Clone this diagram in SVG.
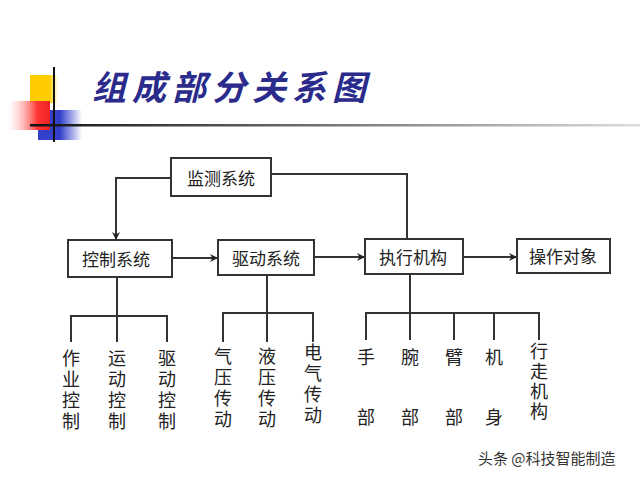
<svg xmlns="http://www.w3.org/2000/svg" width="640" height="480" viewBox="0 0 640 480">
<defs>
<linearGradient id="red" x1="0" x2="1"><stop offset="0" stop-color="#fff" stop-opacity="0.3"/><stop offset="0.7" stop-color="#f33"/><stop offset="1" stop-color="#e22"/></linearGradient>
<linearGradient id="blue" x1="0" x2="1"><stop offset="0" stop-color="#3340cc"/><stop offset="0.5" stop-color="#3340cc"/><stop offset="1" stop-color="#fff"/></linearGradient>
<linearGradient id="yel" x1="0" x2="1"><stop offset="0" stop-color="#ffcc00"/><stop offset="0.7" stop-color="#ffcc00"/><stop offset="1" stop-color="#fff"/></linearGradient>
<linearGradient id="hl" x1="0" x2="1"><stop offset="0" stop-color="#111"/><stop offset="0.5" stop-color="#777"/><stop offset="1" stop-color="#ddd"/></linearGradient>
<marker id="ar" viewBox="0 0 10 10" refX="10" refY="5" markerWidth="8" markerHeight="8" orient="auto" markerUnits="userSpaceOnUse"><path d="M0,0 L10,5 L0,10 L3,5 z" fill="#222"/></marker>
<style>
.b{fill:#fff;stroke:#333;stroke-width:2}
.t{font-family:"Noto Sans CJK SC",sans-serif;font-size:17px;fill:#222;text-anchor:middle;dominant-baseline:central}
.v{font-family:"Noto Sans CJK SC",sans-serif;font-size:18px;fill:#222;text-anchor:middle}
.l{fill:none;stroke:#333;stroke-width:2}
</style>
</defs>
<rect width="640" height="480" fill="#fff"/>
<rect x="30" y="75" width="28" height="28" fill="url(#yel)"/>
<rect x="38" y="110" width="44" height="30" fill="url(#blue)"/>
<rect x="8" y="101" width="42" height="29" fill="url(#red)"/>
<rect x="30" y="124" width="610" height="2.5" fill="url(#hl)"/>
<line x1="54" y1="67" x2="54" y2="142" stroke="#111" stroke-width="2"/>
<text x="92" y="100" font-family="Noto Sans CJK SC,sans-serif" font-size="34" font-style="italic" font-weight="bold" fill="#2b2b8c" letter-spacing="6">组成部分关系图</text>
<g id="connectors">
<path class="l" d="M171,178 H116 V240" marker-end="url(#ar)"/>
<path class="l" d="M271,174 H407 V239"/>
<path class="l" d="M172,258 H218" marker-end="url(#ar)"/>
<path class="l" d="M314,257 H365" marker-end="url(#ar)"/>
<path class="l" d="M463,257 H517" marker-end="url(#ar)"/>
<path class="l" d="M117,277 V316 M71,342 V316 H167 V342 M117,316 V342"/>
<path class="l" d="M267,275 V313 M223,342 V313 H313 V342 M267,313 V342"/>
<path class="l" d="M410,274 V313 M366,340 V313 H539 V340 M410,313 V340 M454,313 V340 M494,313 V340"/>
</g>
<g id="n1"><rect class="b" x="171" y="158" width="100" height="38"/><text class="t" x="221" y="177">监测系统</text></g>
<g id="n2"><rect class="b" x="68" y="240" width="104" height="37"/><text class="t" x="116" y="258">控制系统</text></g>
<g id="n3"><rect class="b" x="218" y="240" width="96" height="35"/><text class="t" x="266" y="257">驱动系统</text></g>
<g id="n4"><rect class="b" x="365" y="239" width="98" height="35"/><text class="t" x="413" y="256">执行机构</text></g>
<g id="n5"><rect class="b" x="517" y="239" width="93" height="34"/><text class="t" x="563" y="255">操作对象</text></g>
<g id="leaves">
<text class="v" x="71" y="365">作<tspan x="71" dy="21">业</tspan><tspan x="71" dy="21">控</tspan><tspan x="71" dy="21">制</tspan></text>
<text class="v" x="117" y="365">运<tspan x="117" dy="21">动</tspan><tspan x="117" dy="21">控</tspan><tspan x="117" dy="21">制</tspan></text>
<text class="v" x="167" y="365">驱<tspan x="167" dy="21">动</tspan><tspan x="167" dy="21">控</tspan><tspan x="167" dy="21">制</tspan></text>
<text class="v" x="223" y="363">气<tspan x="223" dy="21">压</tspan><tspan x="223" dy="21">传</tspan><tspan x="223" dy="21">动</tspan></text>
<text class="v" x="267" y="363">液<tspan x="267" dy="21">压</tspan><tspan x="267" dy="21">传</tspan><tspan x="267" dy="21">动</tspan></text>
<text class="v" x="313" y="359">电<tspan x="313" dy="21">气</tspan><tspan x="313" dy="21">传</tspan><tspan x="313" dy="21">动</tspan></text>
<text class="v" x="366" y="364">手<tspan x="366" dy="60">部</tspan></text>
<text class="v" x="410" y="364">腕<tspan x="410" dy="60">部</tspan></text>
<text class="v" x="454" y="364">臂<tspan x="454" dy="60">部</tspan></text>
<text class="v" x="494" y="364">机<tspan x="494" dy="60">身</tspan></text>
<text class="v" x="539" y="358">行<tspan x="539" dy="20">走</tspan><tspan x="539" dy="20">机</tspan><tspan x="539" dy="20">构</tspan></text>
</g>
<text x="478" y="464" font-family="Noto Sans CJK SC,sans-serif" font-size="15" fill="#333">头条 @科技智能制造</text>
</svg>
